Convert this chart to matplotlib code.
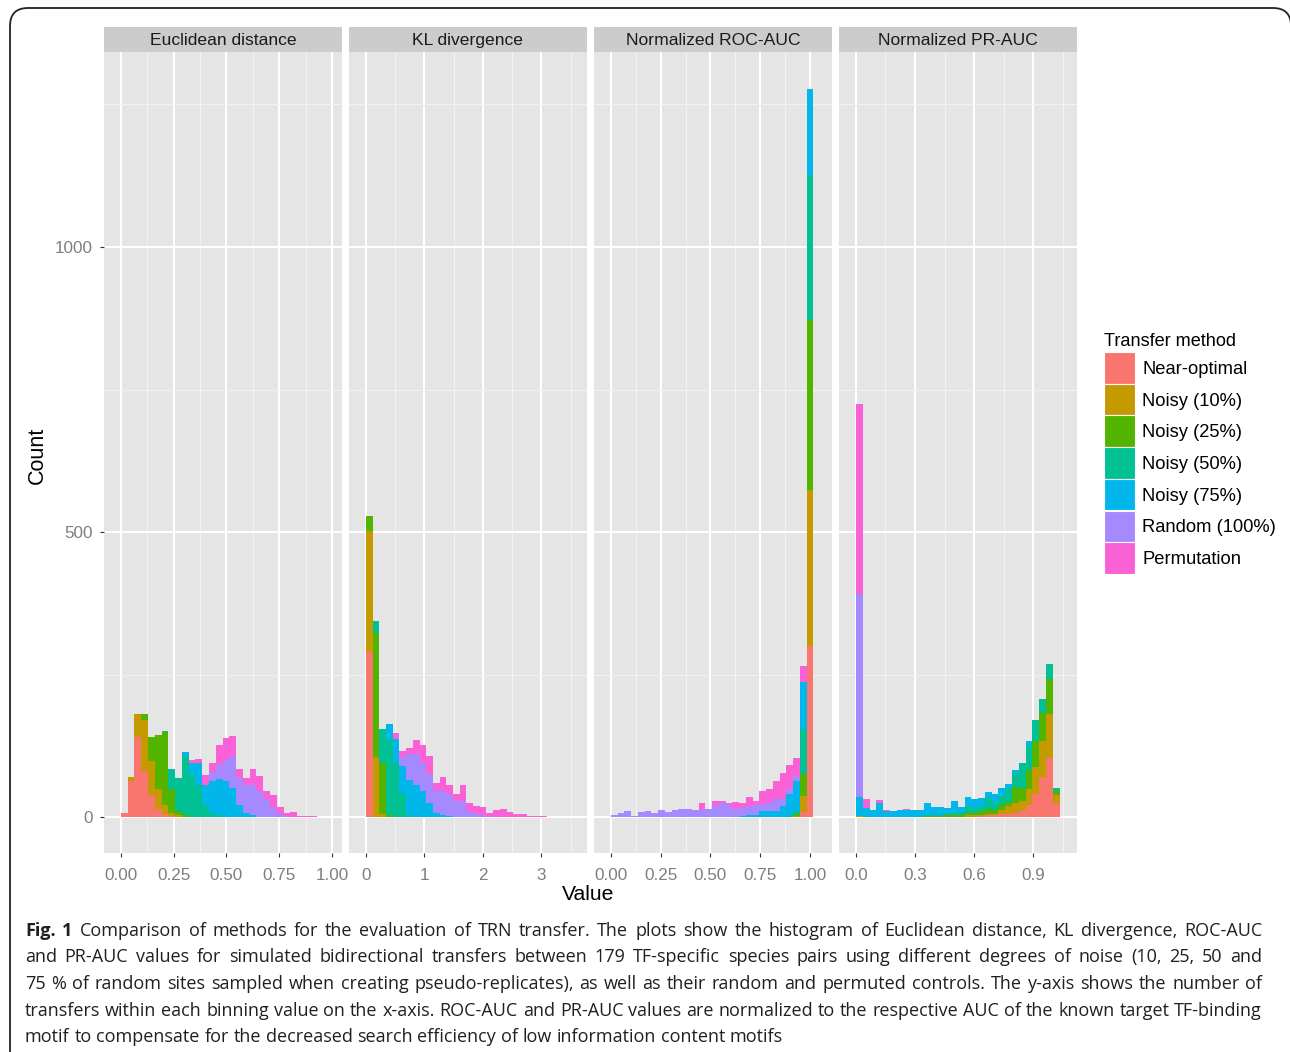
import numpy as np
import matplotlib
matplotlib.use("Agg")
import matplotlib.pyplot as plt
from matplotlib.patches import Rectangle, FancyBboxPatch
from matplotlib.transforms import IdentityTransform

W, H, DPI = 1290, 1052, 100

groups = ["Near-optimal", "Noisy (10%)", "Noisy (25%)", "Noisy (50%)",
          "Noisy (75%)", "Random (100%)", "Permutation"]
colors = ["#F8766D", "#C49A00", "#53B400", "#00C094", "#00B6EB", "#A58AFF", "#FB61D7"]
panel_titles = ["Euclidean distance", "KL divergence", "Normalized ROC-AUC", "Normalized PR-AUC"]

# ---- Euclidean distance (30 bins) ----
eu_near = [8, 64, 140, 80, 38, 15, 5, 2, 0, 0, 0, 0, 0, 0, 0, 0, 0, 0, 0, 0, 0, 0, 0, 0, 0, 0, 0, 0, 0, 0]
eu_n10  = [0, 6, 40, 91, 61, 35, 17, 6, 3, 1, 0, 0, 0, 0, 0, 0, 0, 0, 0, 0, 0, 0, 0, 0, 0, 0, 0, 0, 0, 0]
eu_n25  = [0, 0, 0, 9, 41, 94, 127, 42, 7, 3, 0, 0, 0, 0, 0, 0, 0, 0, 0, 0, 0, 0, 0, 0, 0, 0, 0, 0, 0, 0]
eu_n50  = [0, 0, 0, 0, 0, 0, 2, 35, 58, 103, 75, 57, 22, 8, 3, 0, 0, 0, 0, 0, 0, 0, 0, 0, 0, 0, 0, 0, 0, 0]
eu_n75  = [0, 0, 0, 0, 0, 0, 0, 0, 0, 8, 20, 37, 35, 56, 63, 63, 51, 22, 8, 3, 1, 0, 0, 0, 0, 0, 0, 0, 0, 0]
eu_rand = [0, 0, 0, 0, 0, 0, 0, 0, 0, 0, 0, 0, 0, 15, 26, 37, 56, 47, 48, 54, 45, 31, 16, 6, 2, 0, 0, 0, 0, 0]
eu_perm = [0, 0, 0, 0, 0, 0, 0, 0, 0, 0, 5, 8, 16, 15, 34, 38, 35, 15, 13, 27, 26, 15, 22, 12, 6, 9, 2, 2, 2, 1]

# ---- KL divergence (30 bins) ----
kl_near = [290, 0, 0, 0, 0, 0, 0, 0, 0, 0, 0, 0, 0, 0, 0, 0, 0, 0, 0, 0, 0, 0, 0, 0, 0, 0, 0, 0, 0, 0]
kl_n10  = [212, 105, 5, 0, 0, 0, 0, 0, 0, 0, 0, 0, 0, 0, 0, 0, 0, 0, 0, 0, 0, 0, 0, 0, 0, 0, 0, 0, 0, 0]
kl_n25  = [26, 218, 90, 3, 0, 0, 0, 0, 0, 0, 0, 0, 0, 0, 0, 0, 0, 0, 0, 0, 0, 0, 0, 0, 0, 0, 0, 0, 0, 0]
kl_n50  = [0, 21, 60, 134, 95, 43, 3, 1, 0, 0, 0, 0, 0, 0, 0, 0, 0, 0, 0, 0, 0, 0, 0, 0, 0, 0, 0, 0, 0, 0]
kl_n75  = [0, 0, 0, 27, 42, 46, 62, 55, 45, 25, 8, 4, 2, 1, 0, 0, 0, 0, 0, 0, 0, 0, 0, 0, 0, 0, 0, 0, 0, 0]
kl_rand = [0, 0, 0, 0, 0, 16, 45, 54, 50, 50, 38, 42, 38, 27, 28, 10, 6, 4, 2, 1, 0, 0, 0, 0, 0, 0, 0, 0, 0, 0]
kl_perm = [0, 0, 0, 0, 11, 11, 12, 25, 32, 32, 14, 24, 17, 12, 28, 14, 13, 14, 6, 11, 15, 9, 5, 5, 2, 2, 2, 0, 1, 1]

# ---- Normalized ROC-AUC (30 bins) ----
roc_near = [0, 0, 0, 0, 0, 0, 0, 0, 0, 0, 0, 0, 0, 0, 0, 0, 0, 0, 0, 0, 0, 0, 0, 0, 0, 0, 0, 1, 9, 300]
roc_n10  = [0, 0, 0, 0, 0, 0, 0, 0, 0, 0, 0, 0, 0, 0, 0, 0, 0, 0, 0, 0, 0, 0, 0, 0, 0, 0, 0, 1, 28, 274]
roc_n25  = [0, 0, 0, 0, 0, 0, 0, 0, 0, 0, 0, 0, 0, 0, 0, 0, 0, 0, 0, 0, 0, 0, 0, 0, 0, 0, 0, 3, 38, 298]
roc_n50  = [0, 0, 0, 0, 0, 0, 0, 0, 0, 0, 0, 0, 0, 0, 0, 0, 0, 0, 0, 0, 0, 0, 0, 0, 0, 0, 2, 5, 79, 254]
roc_n75  = [0, 0, 0, 0, 0, 0, 0, 0, 0, 0, 0, 0, 0, 0, 0, 0, 0, 0, 0, 2, 3, 4, 10, 10, 10, 19, 38, 54, 83, 151]
roc_rand = [4, 8, 11, 2, 9, 11, 8, 12, 9, 12, 14, 14, 12, 12, 15, 19, 25, 22, 15, 14, 16, 18, 13, 15, 21, 12, 10, 8, 0, 0]
roc_perm = [0, 0, 0, 0, 0, 0, 0, 0, 0, 0, 1, 1, 0, 13, 0, 9, 4, 3, 11, 9, 16, 7, 23, 24, 32, 47, 41, 32, 28, 0]

# ---- Normalized PR-AUC (30 bins) ----
pr_near = [0, 0, 0, 0, 0, 0, 0, 0, 0, 0, 0, 0, 0, 0, 0, 0, 1, 1, 2, 3, 3, 5, 6, 8, 12, 21, 40, 70, 104, 25]
pr_n10  = [2, 1, 0, 0, 0, 0, 0, 0, 0, 0, 0, 0, 0, 0, 1, 1, 2, 2, 2, 3, 2, 8, 13, 17, 17, 29, 47, 63, 77, 13]
pr_n25  = [0, 0, 0, 0, 0, 0, 0, 0, 1, 1, 2, 2, 2, 3, 3, 3, 4, 5, 6, 9, 8, 9, 7, 28, 22, 32, 46, 50, 62, 8]
pr_n50  = [0, 1, 0, 0, 0, 0, 0, 0, 0, 1, 2, 2, 2, 3, 4, 5, 12, 8, 10, 19, 14, 15, 25, 25, 44, 45, 37, 25, 25, 5]
pr_n75  = [33, 14, 12, 24, 10, 10, 13, 13, 11, 10, 20, 14, 14, 10, 20, 9, 16, 16, 13, 10, 14, 14, 7, 4, 0, 7, 1, 0, 0, 0]
pr_rand = [356, 0, 0, 0, 0, 0, 0, 0, 0, 0, 0, 0, 0, 0, 0, 0, 0, 0, 0, 0, 0, 0, 0, 0, 0, 0, 0, 0, 0, 0]
pr_perm = [333, 15, 1, 6, 2, 0, 0, 1, 0, 1, 0, 0, 0, 0, 0, 0, 0, 0, 0, 0, 0, 0, 0, 0, 0, 0, 0, 0, 0, 0]

panel_counts = [
    [eu_near, eu_n10, eu_n25, eu_n50, eu_n75, eu_rand, eu_perm],
    [kl_near, kl_n10, kl_n25, kl_n50, kl_n75, kl_rand, kl_perm],
    [roc_near, roc_n10, roc_n25, roc_n50, roc_n75, roc_rand, roc_perm],
    [pr_near, pr_n10, pr_n25, pr_n50, pr_n75, pr_rand, pr_perm],
]
bin_start = [0.0, 0.0, 0.0, 0.0]
bin_width = [0.0321, 0.1145, 0.0339, 0.0345]

x_major = [[0, 0.25, 0.5, 0.75, 1.0], [0, 1, 2, 3], [0, 0.25, 0.5, 0.75, 1.0], [0, 0.3, 0.6, 0.9]]
x_labels = [["0.00", "0.25", "0.50", "0.75", "1.00"], ["0", "1", "2", "3"],
            ["0.00", "0.25", "0.50", "0.75", "1.00"], ["0.0", "0.3", "0.6", "0.9"]]
x_minor = [[0.125, 0.375, 0.625, 0.875], [0.5, 1.5, 2.5, 3.5],
           [0.125, 0.375, 0.625, 0.875], [0.15, 0.45, 0.75, 1.05]]
y_major = [0, 500, 1000]
y_labels = ["0", "500", "1000"]
y_minor = [250, 750, 1250]

x_limits = [(-0.080, 1.047), (-0.29, 3.78), (-0.085, 1.111), (-0.0864, 1.1236)]
y_limits = (-63, 1342)

FONT = ["Liberation Sans", "DejaVu Sans"]
plt.rcParams["font.family"] = FONT

fig = plt.figure(figsize=(W / DPI, H / DPI), dpi=DPI)
fig.patch.set_facecolor("white")


def px_rect(x, y, w, h):
    return [x / W, 1 - (y + h) / H, w / W, h / H]


panel_left = [104, 349, 594, 839]
panel_top, panel_w, panel_h = 52, 238, 801
strip_top, strip_h = 27, 25

for i in range(4):
    ax = fig.add_axes(px_rect(panel_left[i], panel_top, panel_w, panel_h))
    ax.set_facecolor("#E5E5E5")
    for s in ax.spines.values():
        s.set_visible(False)
    ax.set_xlim(*x_limits[i])
    ax.set_ylim(*y_limits)
    ax.set_xticks(x_major[i])
    ax.set_xticklabels(x_labels[i])
    ax.set_xticks(x_minor[i], minor=True)
    ax.set_yticks(y_major)
    ax.set_yticks(y_minor, minor=True)
    ax.grid(which="minor", color="#F2F2F2", lw=0.75, zorder=0)
    ax.grid(which="major", color="white", lw=1.45, zorder=1)
    ax.set_axisbelow(True)
    ax.tick_params(which="minor", length=0)
    ax.tick_params(axis="x", which="major", direction="out", length=3, width=0.8,
                   color="#333333", labelcolor="#7F7F7F", labelsize=12.3, pad=7.5)
    if i == 0:
        ax.set_yticklabels(y_labels)
        ax.tick_params(axis="y", which="major", direction="out", length=3, width=0.8,
                       color="#333333", labelcolor="#7F7F7F", labelsize=12.3, pad=5)
    else:
        ax.tick_params(axis="y", which="major", length=0, labelleft=False)

    edges = bin_start[i] + bin_width[i] * np.arange(30)
    bottom = np.zeros(30)
    for g, vals in enumerate(panel_counts[i]):
        v = np.array(vals, dtype=float)
        ax.bar(edges, v, width=bin_width[i], bottom=bottom, align="edge",
               color=colors[g], linewidth=0, antialiased=False, zorder=3)
        bottom += v

    sax = fig.add_axes(px_rect(panel_left[i], strip_top, panel_w, strip_h))
    sax.set_facecolor("#CCCCCC")
    sax.set_xticks([])
    sax.set_yticks([])
    for s in sax.spines.values():
        s.set_visible(False)
    sax.text(0.5, 0.45, panel_titles[i], ha="center", va="center",
             fontsize=12.6, color="#1A1A1A", transform=sax.transAxes)

# axis titles
fig.text(588 / W, 1 - 895 / H, "Value", ha="center", va="center", fontsize=15.2, color="black")
fig.text(37 / W, 1 - 455 / H, "Count", ha="center", va="center", rotation=90,
         fontsize=15.5, color="black")

# legend
fig.text(1104 / W, 1 - 341 / H, "Transfer method", ha="left", va="center",
         fontsize=13.1, color="black")
key_x, key_y0, key_w, key_step = 1104, 352, 31, 31.7
for g in range(len(groups)):
    y = key_y0 + g * key_step
    fig.patches.append(Rectangle((key_x / W, 1 - (y + key_step) / H), key_w / W, key_step / H,
                                 transform=fig.transFigure, facecolor=colors[g],
                                 edgecolor="white", linewidth=0.8))
    fig.text(1142 / W, 1 - (y + key_step / 2 + 1.5) / H, groups[g], ha="left", va="center",
             fontsize=13.2, color="black")

# outer rounded frame
frame = FancyBboxPatch((10, H - 1120), 1281, 1112,
                       boxstyle="round,pad=0,rounding_size=18",
                       transform=IdentityTransform(), facecolor="none",
                       edgecolor="#222222", linewidth=1.3)
fig.patches.append(frame)

# caption
cap_lines = [
    "Fig. 1 Comparison of methods for the evaluation of TRN transfer. The plots show the histogram of Euclidean distance, KL divergence, ROC-AUC",
    "and PR-AUC values for simulated bidirectional transfers between 179 TF-specific species pairs using different degrees of noise (10, 25, 50 and",
    "75 % of random sites sampled when creating pseudo-replicates), as well as their random and permuted controls. The y-axis shows the number of",
    "transfers within each binning value on the x-axis. ROC-AUC and PR-AUC values are normalized to the respective AUC of the known target TF-binding",
    "motif to compensate for the decreased search efficiency of low information content motifs",
]
cap_baselines = [936, 962, 989, 1016, 1042]
cap_font = ["Open Sans", "DejaVu Sans"]
cap_size = 12.95
cap_color = "#231F20"
x0, x1 = 25, 1262
renderer = fig.canvas.get_renderer()
for li, line in enumerate(cap_lines):
    words = line.split(" ")
    arts = []
    for wi, wd in enumerate(words):
        bold = (li == 0 and wi < 2)
        t = fig.text(0, 1 - cap_baselines[li] / H, wd, fontsize=cap_size, family=cap_font,
                     weight="bold" if bold else "normal", color=cap_color,
                     va="baseline", ha="left")
        arts.append(t)
    widths = [t.get_window_extent(renderer).width for t in arts]
    if li < len(cap_lines) - 1:
        gap = (x1 - x0 - sum(widths)) / (len(words) - 1)
    else:
        gap = cap_size * DPI / 72 * 0.26
    x = x0
    for t, wd in zip(arts, widths):
        t.set_x(x / W)
        x += wd + gap

fig.savefig("out.png", dpi=DPI)
